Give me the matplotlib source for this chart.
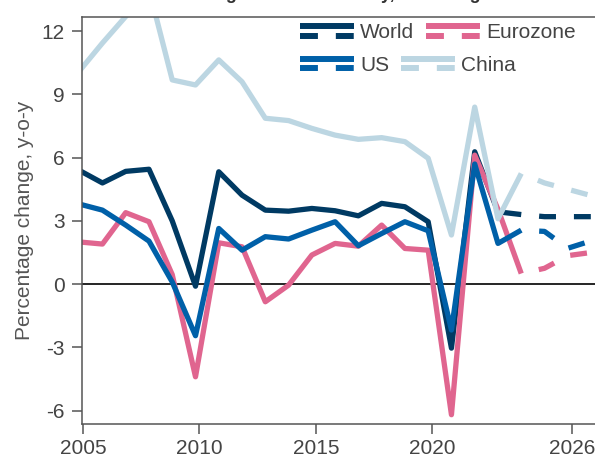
import numpy as np
import matplotlib
matplotlib.use("Agg")
import matplotlib.pyplot as plt
from matplotlib.lines import Line2D
from matplotlib.legend_handler import HandlerBase

plt.rcParams["font.family"] = ["Liberation Sans", "DejaVu Sans"]
plt.rcParams["axes.unicode_minus"] = False

# annual growth, %, y-o-y (2023 onward dashed = forecast)
years = np.arange(2004, 2028)
world = [5.4, 4.8, 5.35, 5.45, 3.0, -0.1, 5.33, 4.22, 3.51, 3.46, 3.59, 3.48,
         3.24, 3.83, 3.67, 2.96, -3.04, 6.28, 3.43, 3.3, 3.2, 3.2, 3.2, 3.2]
eurozone = [2.0, 1.9, 3.39, 2.96, 0.45, -4.4, 1.96, 1.77, -0.84, -0.05, 1.38, 1.93,
            1.8, 2.8, 1.69, 1.61, -6.2, 6.12, 3.55, 0.5, 0.75, 1.35, 1.5, 1.55]
us = [3.8, 3.51, 2.8, 2.04, 0.1, -2.45, 2.64, 1.61, 2.25, 2.14, 2.56, 2.96,
      1.82, 2.4, 2.96, 2.53, -2.18, 5.7, 1.93, 2.56, 2.5, 1.7, 2.05, 2.1]
china = [10.1, 11.44, 12.7, 14.0, 9.69, 9.45, 10.64, 9.6, 7.87, 7.76, 7.39, 7.07,
         6.87, 6.95, 6.76, 5.97, 2.33, 8.4, 3.1, 5.25, 4.8, 4.5, 4.2, 3.95]

series = [("World", world, "#003a63"),
          ("Eurozone", eurozone, "#e0658f"),
          ("US", us, "#0060a8"),
          ("China", china, "#bcd6e2")]

first_forecast = 2023
xticks = [2005, 2010, 2015, 2020, 2026]
yticks = [-6, -3, 0, 3, 6, 9, 12]

# points sit late in each year on the time axis
xpos = years + 0.83
split = int(np.where(years == first_forecast)[0][0])


class SolidOverDash(HandlerBase):
    def create_artists(self, legend, orig_handle, xdescent, ydescent,
                       width, height, fontsize, trans):
        color = orig_handle.get_color()
        xs = [-xdescent, width - xdescent]
        mid = height / 2 - ydescent
        solid = Line2D(xs, [mid + 3.4] * 2, color=color, lw=4.3,
                       solid_capstyle="butt")
        dashed = Line2D(xs, [mid - 3.4] * 2, color=color, lw=4.3,
                        linestyle=(0, (3.0, 3.0)), dash_capstyle="butt")
        solid.set_transform(trans)
        dashed.set_transform(trans)
        return [solid, dashed]


fig = plt.figure(figsize=(5.95, 4.59), dpi=100)
ax = fig.add_axes([81.5 / 595, 35 / 459, 1 - 81.5 / 595, (424 - 16.7) / 459])

ax.axhline(0, color="black", lw=1.2, zorder=1)

handles = []
for name, vals, col in series:
    vals = np.array(vals)
    ln, = ax.plot(xpos[:split + 1], vals[:split + 1], color=col, lw=3.8,
                  solid_capstyle="butt", solid_joinstyle="round", label=name)
    ax.plot(xpos[split:], vals[split:], color=col, lw=3.8,
            linestyle=(3.2, (3.2, 3.4)), dash_capstyle="butt")
    handles.append(ln)

ax.set_xlim(2004.93, 2027.0)
ax.set_ylim(-6.64, 12.69)
ax.set_xticks(xticks)
ax.set_yticks(yticks)

for s in ["left", "bottom", "top"]:
    ax.spines[s].set_color("#555555")
    ax.spines[s].set_linewidth(1.1)
ax.spines["right"].set_visible(False)
ax.tick_params(axis="both", direction="out", length=7, width=1.1,
               color="#555555", labelcolor="#444444", labelsize=15)
ax.tick_params(axis="y", pad=5)
ax.tick_params(axis="x", pad=4)

fig.text(25 / 595, 1 - 220 / 459, "Percentage change, y-o-y", rotation=90,
         ha="center", va="center", fontsize=15, color="#555555")

# title, mostly cropped away above the canvas
fig.text(139 / 595, 1 + 0.5 / 459, "Real GDP growth in economy, world regions",
         ha="left", va="baseline", fontsize=13, fontweight="bold", color="#333333")

hmap = {h: SolidOverDash() for h in handles}
leg_kw = dict(loc="center left", ncol=2, frameon=False, fontsize=15,
              handlelength=2.59, handletextpad=0.29, columnspacing=0.58,
              borderpad=0, borderaxespad=0, handler_map=hmap,
              labelcolor="#444444")
fig.legend(handles=handles[:2], bbox_to_anchor=(300 / 595, 1 - 33 / 459), **leg_kw)
fig.legend(handles=handles[2:], bbox_to_anchor=(300 / 595, 1 - 65.5 / 459), **leg_kw)

fig.savefig("out.png", dpi=100)
